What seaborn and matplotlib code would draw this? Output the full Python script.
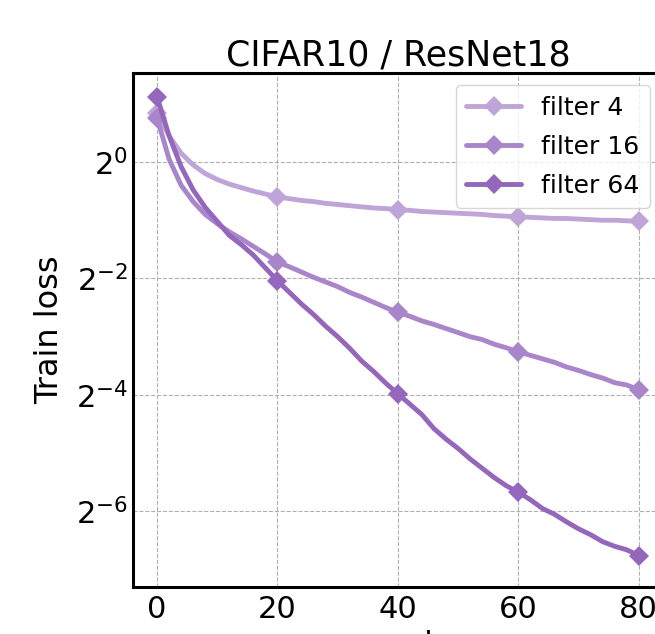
import numpy as np
import pandas as pd
import matplotlib
matplotlib.use("Agg")
import matplotlib.pyplot as plt
import matplotlib.ticker as mticker
import seaborn as sns

# -----------------------------
# DATA (log2 of train loss, read every 2 epochs)
# -----------------------------
epochs = list(range(0, 81, 2))

log2_loss_filter4 = [
    0.84, 0.45, 0.15, -0.05, -0.20, -0.30, -0.38, -0.44, -0.50, -0.55,
    -0.60, -0.63, -0.66, -0.68, -0.71, -0.73, -0.75, -0.77, -0.79, -0.80,
    -0.82, -0.83, -0.85, -0.86, -0.87, -0.88, -0.89, -0.90, -0.92, -0.93,
    -0.94, -0.95, -0.96, -0.97, -0.97, -0.98, -0.99, -1.00, -1.00, -1.01,
    -1.02,
]
log2_loss_filter16 = [
    0.755, 0.05, -0.40, -0.68, -0.90, -1.06, -1.20, -1.32, -1.45, -1.58,
    -1.72, -1.80, -1.89, -1.98, -2.06, -2.14, -2.24, -2.32, -2.41, -2.50,
    -2.58, -2.65, -2.73, -2.79, -2.86, -2.93, -3.00, -3.05, -3.13, -3.19,
    -3.26, -3.32, -3.38, -3.44, -3.52, -3.58, -3.65, -3.71, -3.79, -3.83,
    -3.91,
]
log2_loss_filter64 = [
    1.12, 0.45, -0.08, -0.48, -0.78, -1.02, -1.26, -1.42, -1.60, -1.82,
    -2.04, -2.24, -2.44, -2.62, -2.82, -3.00, -3.20, -3.42, -3.60, -3.80,
    -3.98, -4.16, -4.34, -4.58, -4.76, -4.92, -5.10, -5.26, -5.42, -5.56,
    -5.67, -5.80, -5.95, -6.05, -6.18, -6.30, -6.40, -6.52, -6.60, -6.66,
    -6.76,
]

labels = ["filter 4", "filter 16", "filter 64"]
colors = ["#bfa4d7", "#a985ca", "#9467bd"]

series = [log2_loss_filter4, log2_loss_filter16, log2_loss_filter64]

df = pd.concat([
    pd.DataFrame({"epoch": epochs, "loss": 2.0 ** np.array(s), "model": lab})
    for s, lab in zip(series, labels)
])

# -----------------------------
# PLOT
# -----------------------------
sns.set_style("white")
plt.rcParams["font.family"] = ["DejaVu Sans"]
plt.rcParams["text.color"] = "black"
plt.rcParams["axes.labelcolor"] = "black"

fig = plt.figure(figsize=(6.55, 6.34), dpi=100)
ax = fig.add_axes([0.203, 0.074, 0.809, 0.811])

for lab, col in zip(labels, colors):
    sub = df[df["model"] == lab]
    sns.lineplot(
        data=sub, x="epoch", y="loss", ax=ax, color=col, label=lab,
        linewidth=3.5, marker="D", markersize=10, markeredgewidth=0,
        markevery=10,
    )

ax.set_yscale("log", base=2)
ax.yaxis.set_major_locator(mticker.FixedLocator([2.0**-6, 2.0**-4, 2.0**-2, 2.0**0]))
ax.yaxis.set_major_formatter(mticker.LogFormatterSciNotation(base=2))
ax.yaxis.set_minor_locator(mticker.NullLocator())
ax.set_ylim(2.0**-7.3, 2.0**1.53)

ax.set_xlim(-4, 84)
ax.set_xticks([0, 20, 40, 60, 80])

ax.grid(True, linestyle="--", color="#b0b0b0", linewidth=0.8)
for sp in ax.spines.values():
    sp.set_color("black")
    sp.set_linewidth(2.2)
ax.tick_params(direction="in", labelsize=22, length=5, width=1,
               colors="black", labelcolor="black")
ax.tick_params(axis="x", pad=6)

ax.set_title("CIFAR10 / ResNet18", fontsize=25, pad=5, color="black")
ax.set_xlabel("epoch", fontsize=22, labelpad=4)
ax.set_ylabel("Train loss", fontsize=23, labelpad=8)

ax.legend(loc="upper right", fontsize=18, handlelength=2.2,
          labelspacing=0.6, frameon=True, edgecolor="#cccccc", borderpad=0.42)

fig.savefig("out.png", dpi=100)
